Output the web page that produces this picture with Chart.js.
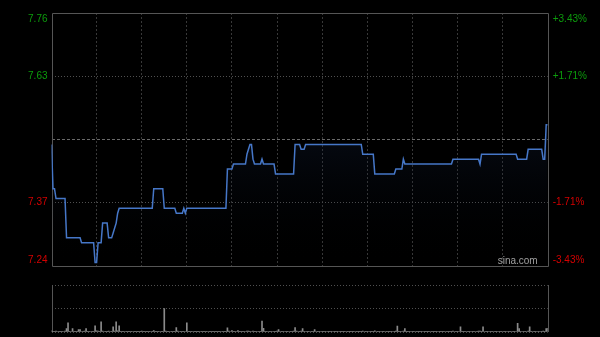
<!DOCTYPE html>
<html>
<head>
<meta charset="utf-8">
<script src="https://cdn.jsdelivr.net/npm/chart.js@4.4.1/dist/chart.umd.min.js"></script>
<style>
    html, body { margin: 0; padding: 0; background: #000; }
    #wrap { position: relative; width: 600px; height: 337px; overflow: hidden; }
    #priceBox { position: absolute; left: 0; top: 0; width: 600px; height: 270px; }
    #volBox { position: absolute; left: 0; top: 275px; width: 600px; height: 62px; }
</style>
</head>
<body>
<div id="wrap">
    <div id="priceBox"><canvas id="priceChart"></canvas></div>
    <div id="volBox"><canvas id="volChart"></canvas></div>
</div>
<script>
// previous close and the +/- range shown on the axis
var prevClose = 7.50;
var maxPct = 3.43;

// axis ticks (bottom to top)
var tickPct = [-3.43, -1.71, 0, 1.71, 3.43];
var priceLabels = ['7.24', '7.37', '7.50', '7.63', '7.76'];
var pctLabels = ['-3.43%', '-1.71%', '0.00%', '+1.71%', '+3.43%'];

// half-hour grid marks, minutes from the open (09:30 .. 16:00, lunch removed)
var gridMinutes = [0, 30, 60, 90, 120, 150, 180, 210, 240, 270, 300, 330];

// minute prices
var prices = [
    7.49, 7.40, 7.40, 7.38, 7.38, 7.38, 7.38, 7.38, 7.38, 7.38,
    7.30, 7.30, 7.30, 7.30, 7.30, 7.30, 7.30, 7.30, 7.30, 7.30,
    7.29, 7.29, 7.29, 7.29, 7.29, 7.29, 7.29, 7.29, 7.29, 7.25,
    7.25, 7.29, 7.29, 7.29, 7.33, 7.33, 7.33, 7.33, 7.30, 7.30,
    7.30, 7.31, 7.32, 7.33, 7.35, 7.36, 7.36, 7.36, 7.36, 7.36,
    7.36, 7.36, 7.36, 7.36, 7.36, 7.36, 7.36, 7.36, 7.36, 7.36,
    7.36, 7.36, 7.36, 7.36, 7.36, 7.36, 7.36, 7.36, 7.40, 7.40,
    7.40, 7.40, 7.40, 7.40, 7.40, 7.36, 7.36, 7.36, 7.36, 7.36,
    7.36, 7.36, 7.36, 7.35, 7.35, 7.35, 7.35, 7.35, 7.36, 7.35,
    7.36, 7.36, 7.36, 7.36, 7.36, 7.36, 7.36, 7.36, 7.36, 7.36,
    7.36, 7.36, 7.36, 7.36, 7.36, 7.36, 7.36, 7.36, 7.36, 7.36,
    7.36, 7.36, 7.36, 7.36, 7.36, 7.36, 7.36, 7.44, 7.44, 7.44,
    7.44, 7.45, 7.45, 7.45, 7.45, 7.45, 7.45, 7.45, 7.45, 7.45,
    7.47, 7.48, 7.49, 7.49, 7.46, 7.45, 7.45, 7.45, 7.45, 7.45,
    7.46, 7.45, 7.45, 7.45, 7.45, 7.45, 7.45, 7.45, 7.45, 7.43,
    7.43, 7.43, 7.43, 7.43, 7.43, 7.43, 7.43, 7.43, 7.43, 7.43,
    7.43, 7.43, 7.49, 7.49, 7.49, 7.49, 7.48, 7.48, 7.48, 7.49,
    7.49, 7.49, 7.49, 7.49, 7.49, 7.49, 7.49, 7.49, 7.49, 7.49,
    7.49, 7.49, 7.49, 7.49, 7.49, 7.49, 7.49, 7.49, 7.49, 7.49,
    7.49, 7.49, 7.49, 7.49, 7.49, 7.49, 7.49, 7.49, 7.49, 7.49,
    7.49, 7.49, 7.49, 7.49, 7.49, 7.49, 7.49, 7.47, 7.47, 7.47,
    7.47, 7.47, 7.47, 7.47, 7.47, 7.43, 7.43, 7.43, 7.43, 7.43,
    7.43, 7.43, 7.43, 7.43, 7.43, 7.43, 7.43, 7.43, 7.43, 7.44,
    7.44, 7.44, 7.44, 7.44, 7.46, 7.45, 7.45, 7.45, 7.45, 7.45,
    7.45, 7.45, 7.45, 7.45, 7.45, 7.45, 7.45, 7.45, 7.45, 7.45,
    7.45, 7.45, 7.45, 7.45, 7.45, 7.45, 7.45, 7.45, 7.45, 7.45,
    7.45, 7.45, 7.45, 7.45, 7.45, 7.45, 7.45, 7.46, 7.46, 7.46,
    7.46, 7.46, 7.46, 7.46, 7.46, 7.46, 7.46, 7.46, 7.46, 7.46,
    7.46, 7.46, 7.46, 7.46, 7.46, 7.45, 7.47, 7.47, 7.47, 7.47,
    7.47, 7.47, 7.47, 7.47, 7.47, 7.47, 7.47, 7.47, 7.47, 7.47,
    7.47, 7.47, 7.47, 7.47, 7.47, 7.47, 7.47, 7.47, 7.47, 7.47,
    7.46, 7.46, 7.46, 7.46, 7.46, 7.46, 7.46, 7.48, 7.48, 7.48,
    7.48, 7.48, 7.48, 7.48, 7.48, 7.48, 7.48, 7.46, 7.46, 7.53,
    7.53
];

// minute volumes (thousand shares)
var volumes = [
    12, 6, 4, 8, 5, 3, 6, 4, 5, 8,
    34, 90, 6, 5, 34, 4, 3, 6, 24, 24,
    5, 4, 8, 34, 6, 3, 5, 4, 6, 60,
    12, 8, 6, 100, 10, 5, 4, 6, 8, 5,
    6, 50, 8, 100, 12, 60, 6, 4, 3, 5,
    2, 3, 4, 2, 5, 3, 2, 4, 3, 2,
    10, 3, 2, 4, 3, 2, 5, 3, 15, 6,
    4, 3, 5, 2, 6, 230, 8, 4, 3, 5,
    3, 4, 6, 44, 8, 5, 3, 4, 6, 5,
    90, 6, 4, 3, 5, 2, 4, 3, 2, 5,
    3, 2, 4, 3, 5, 2, 3, 4, 2, 3,
    4, 3, 2, 5, 3, 4, 6, 40, 8, 5,
    15, 4, 3, 5, 15, 4, 3, 6, 4, 5,
    8, 10, 6, 5, 8, 4, 3, 5, 4, 6,
    107, 35, 6, 4, 5, 3, 4, 5, 3, 6,
    8, 24, 5, 4, 3, 5, 4, 3, 5, 4,
    6, 8, 44, 10, 5, 6, 8, 34, 6, 5,
    4, 3, 5, 4, 6, 24, 5, 3, 4, 5,
    3, 4, 2, 5, 3, 4, 3, 5, 2, 4,
    3, 5, 4, 2, 3, 4, 5, 3, 2, 4,
    3, 4, 5, 3, 2, 4, 6, 10, 5, 4,
    3, 5, 4, 3, 6, 12, 5, 4, 3, 5,
    4, 3, 5, 4, 3, 2, 4, 5, 6, 8,
    57, 6, 4, 5, 8, 34, 6, 4, 3, 5,
    4, 3, 5, 4, 3, 2, 4, 5, 3, 4,
    3, 4, 5, 3, 2, 4, 3, 5, 4, 3,
    4, 3, 5, 4, 3, 6, 4, 8, 5, 4,
    3, 5, 50, 6, 4, 3, 5, 4, 3, 5,
    4, 3, 5, 6, 8, 10, 6, 50, 5, 4,
    3, 5, 4, 3, 5, 4, 3, 5, 4, 3,
    5, 4, 3, 5, 4, 3, 5, 4, 6, 5,
    84, 34, 6, 5, 4, 6, 5, 8, 50, 6,
    5, 4, 6, 5, 4, 5, 6, 8, 6, 34,
    35
];

var AXIS_L = 51.5;
var AXIS_R = 52.3;
var FONT = { family: 'Arial, "Liberation Sans", sans-serif', size: 10 };
var UP = '#0c9c0c', DOWN = '#d40000';

var yMin = prevClose * (1 - maxPct / 100);
var yMax = prevClose * (1 + maxPct / 100);
var lastMinute = gridMinutes[gridMinutes.length - 1];

function pctTicks(scale) {
    scale.ticks = tickPct.map(function(p) { return { value: prevClose * (1 + p / 100) }; });
}

// fixed axis width, no extra room for the edge labels
function fitWidth(w) {
    return function(s) {
        s.width = w;
        s.paddingTop = 0;
        s.paddingBottom = 0;
    };
}

// edge labels are pushed inside the plot area
function shiftLabel(text, i) {
    if (i === 2) return '';
    if (i === 0) return [text, ''];
    if (i === tickPct.length - 1) return ['', text];
    return text;
}

function labelColor(c) {
    return c.index > 2 ? UP : DOWN;
}

// solid frame around the plot
var frame = {
    id: 'frame',
    beforeDatasetsDraw: function(chart, args, opts) {
        var a = chart.chartArea, ctx = chart.ctx;
        ctx.save();
        ctx.strokeStyle = '#555';
        ctx.lineWidth = 1;
        ctx.beginPath();
        if (opts.full) {
            ctx.rect(Math.round(a.left) + 0.5, Math.round(a.top) + 0.5,
                Math.round(a.right - a.left), Math.round(a.bottom - a.top));
        } else {
            ctx.moveTo(Math.round(a.left) + 0.5, a.top);
            ctx.lineTo(Math.round(a.left) + 0.5, a.bottom);
            ctx.moveTo(Math.round(a.right) + 0.5, a.top);
            ctx.lineTo(Math.round(a.right) + 0.5, a.bottom);
        }
        ctx.stroke();
        ctx.restore();
    }
};

var watermark = {
    id: 'watermark',
    afterDatasetsDraw: function(chart) {
        var a = chart.chartArea, ctx = chart.ctx;
        ctx.save();
        ctx.fillStyle = '#a0a0a0';
        ctx.font = '10px Arial, "Liberation Sans", sans-serif';
        ctx.textAlign = 'right';
        ctx.textBaseline = 'alphabetic';
        ctx.fillText('sina.com', a.right - 10, a.bottom - 2);
        ctx.restore();
    }
};

// Price chart

var ctx = document.getElementById('priceChart').getContext('2d');
var priceChart = new Chart(ctx, {
    type: 'line',
    data: {
        datasets: [{
            data: prices.map(function(p, i) { return { x: i, y: p }; }),
            borderColor: '#4677c8',
            borderWidth: 1.5,
            pointRadius: 0,
            tension: 0,
            fill: 'start',
            backgroundColor: function(context) {
                var area = context.chart.chartArea;
                if (!area) return 'rgba(0,0,0,0)';
                var g = context.chart.ctx.createLinearGradient(0, area.top, 0, area.bottom);
                g.addColorStop(0, 'rgba(45,80,150,0.45)');
                g.addColorStop(1, 'rgba(0,0,0,0)');
                return g;
            }
        }]
    },
    options: {
        responsive: true,
        maintainAspectRatio: false,
        animation: false,
        layout: { padding: { top: 13, bottom: 4, left: 0, right: 0 } },
        plugins: {
            legend: { display: false },
            tooltip: { enabled: false },
            frame: { full: true }
        },
        scales: {
            x: {
                type: 'linear',
                min: 0,
                max: lastMinute,
                afterBuildTicks: function(s) {
                    s.ticks = gridMinutes.map(function(v) { return { value: v }; });
                },
                afterFit: function(s) { s.height = 0; },
                ticks: { display: false },
                grid: {
                    drawTicks: false,
                    color: function(c) {
                        var v = c.tick ? c.tick.value : 0;
                        return (v === 0 || v === lastMinute) ? 'rgba(0,0,0,0)' : '#383838';
                    }
                },
                border: { display: false, dash: [2, 2] }
            },
            y: {
                position: 'left',
                min: yMin,
                max: yMax,
                afterBuildTicks: pctTicks,
                afterFit: fitWidth(AXIS_L),
                ticks: {
                    padding: 4,
                    font: FONT,
                    color: labelColor,
                    callback: function(v, i) { return shiftLabel(priceLabels[i], i); }
                },
                grid: {
                    drawTicks: false,
                    color: function(c) {
                        if (c.index === 0 || c.index === tickPct.length - 1) return 'rgba(0,0,0,0)';
                        return c.index === 2 ? '#6a6a6a' : '#505050';
                    }
                },
                border: {
                    display: false,
                    dash: function(c) { return c.index === 2 ? [3, 2] : [1, 2]; }
                }
            },
            y2: {
                position: 'right',
                min: yMin,
                max: yMax,
                afterBuildTicks: pctTicks,
                afterFit: fitWidth(AXIS_R),
                ticks: {
                    padding: 5,
                    font: FONT,
                    color: labelColor,
                    callback: function(v, i) { return shiftLabel(pctLabels[i], i); }
                },
                grid: { display: false, drawTicks: false },
                border: { display: false }
            }
        }
    },
    plugins: [frame, watermark]
});

// Volume chart

var maxVol = Math.max.apply(null, volumes);
var ctx = document.getElementById('volChart').getContext('2d');
var volChart = new Chart(ctx, {
    type: 'bar',
    data: {
        datasets: [{
            data: volumes.map(function(v, i) { return { x: i, y: v }; }),
            backgroundColor: '#8a8a8a',
            barThickness: 1
        }]
    },
    options: {
        responsive: true,
        maintainAspectRatio: false,
        animation: false,
        layout: { padding: { top: 10, bottom: 5, left: 0, right: AXIS_R } },
        plugins: {
            legend: { display: false },
            tooltip: { enabled: false },
            frame: { full: false }
        },
        scales: {
            x: {
                type: 'linear',
                min: 0,
                max: lastMinute,
                offset: false,
                afterFit: function(s) { s.height = 0; },
                ticks: { display: false },
                grid: { display: false },
                border: { display: false }
            },
            y: {
                position: 'left',
                min: 0,
                max: maxVol * 2,
                afterBuildTicks: function(s) {
                    s.ticks = [{ value: 0 }, { value: maxVol }, { value: maxVol * 2 }];
                },
                afterFit: fitWidth(AXIS_L),
                ticks: { display: false },
                grid: { drawTicks: false, color: '#505050' },
                border: { display: false, dash: [1, 2] }
            }
        }
    },
    plugins: [frame]
});
</script>
</body>
</html>
